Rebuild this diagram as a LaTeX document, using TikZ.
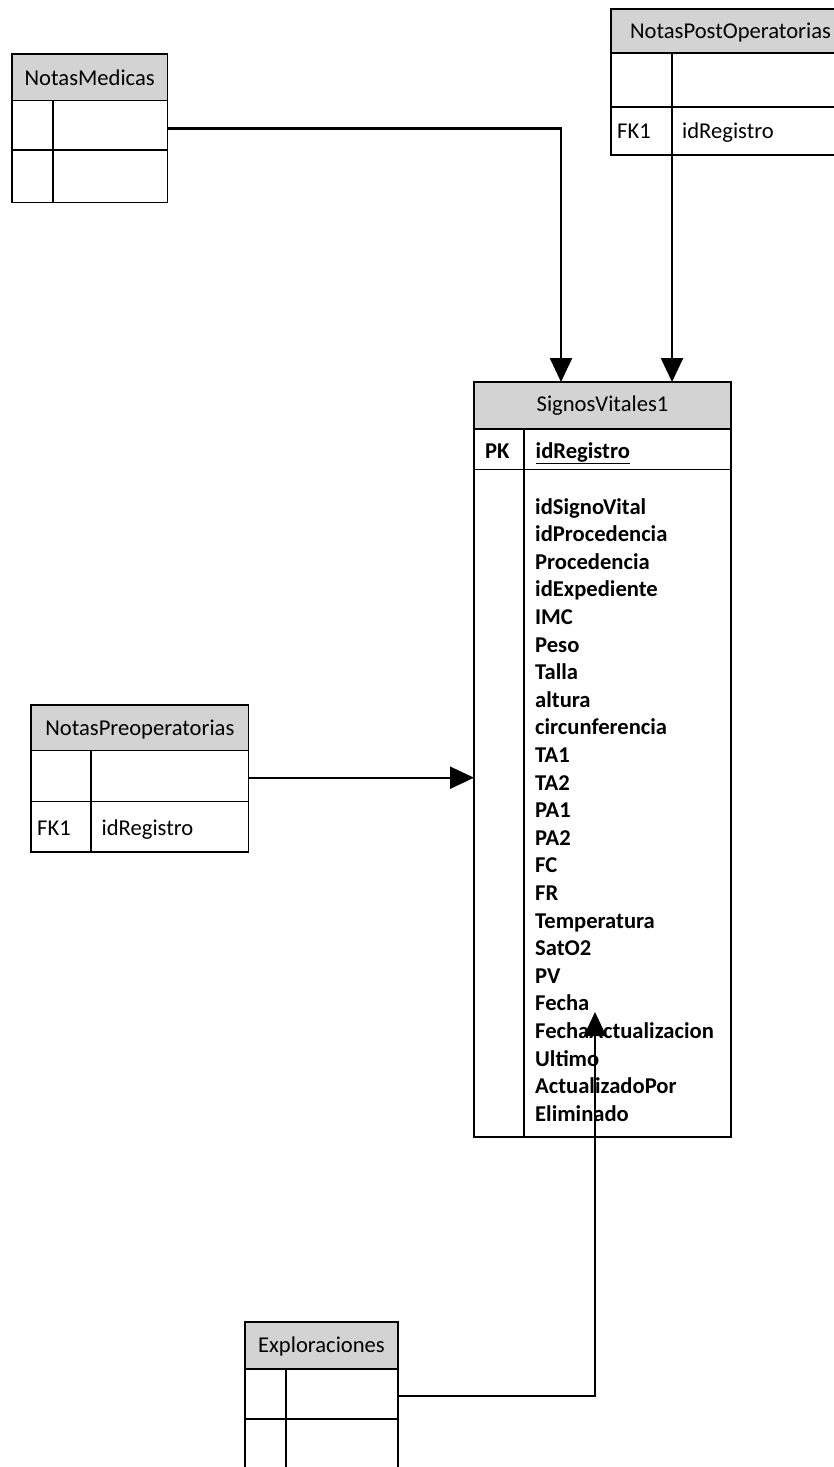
\documentclass[tikz,border=0pt]{standalone}
\usepackage{fontspec}
\setmainfont{Carlito}
\usetikzlibrary{arrows.meta}
\definecolor{hdrgray}{RGB}{211,211,211}
\begin{document}
\begin{tikzpicture}[x=1pt,y=-1pt,
  box/.style={draw=black,line width=1.3pt,inner sep=0pt,outer sep=0pt,anchor=north west},
  hdrbox/.style={box,fill=hdrgray},
  ttl/.style={anchor=base,font=\fontsize{22.6}{27.6}\selectfont,inner sep=0pt},
  cell/.style={anchor=base west,font=\fontsize{22.6}{27.6}\selectfont,inner sep=0pt},
  bcell/.style={anchor=base west,font=\fontsize{22.6}{27.6}\selectfont\bfseries,inner sep=0pt},
  conn/.style={line width=2.4pt,-{Triangle[length=24pt,width=22pt]}}]
\useasboundingbox (0,0) rectangle (834,1467);
\clip (0,0) rectangle (834,1467);

% NotasMedicas
\node[hdrbox,minimum width=155.5pt,minimum height=46.7pt] (nmH) at (12,54) {};
\node[box,minimum width=41pt,minimum height=49.3pt] (nmK1) at (12,100.7) {};
\node[box,minimum width=114.5pt,minimum height=49.3pt] (nmF1) at (53,100.7) {};
\node[box,minimum width=41pt,minimum height=52.7pt] (nmK2) at (12,150) {};
\node[box,minimum width=114.5pt,minimum height=52.7pt] (nmF2) at (53,150) {};
\node[ttl] (nmT) at (89.7,85) {NotasMedicas};

% NotasPostOperatorias
\node[hdrbox,minimum width=239pt,minimum height=44pt] (npH) at (611,9) {};
\node[box,minimum width=61pt,minimum height=54pt] (npK1) at (611,53) {};
\node[box,minimum width=178pt,minimum height=54pt] (npF1) at (672,53) {};
\node[box,minimum width=61pt,minimum height=48pt] (npK2) at (611,107) {};
\node[box,minimum width=178pt,minimum height=48pt] (npF2) at (672,107) {};
\node[ttl] (npT) at (730.5,38) {NotasPostOperatorias};
\node[cell] (npk) at (617,138) {FK1};
\node[cell] (npf) at (682,138) {idRegistro};

% SignosVitales1
\node[hdrbox,minimum width=257pt,minimum height=47pt] (svH) at (474,382) {};
\node[box,minimum width=50pt,minimum height=40.5pt] (svK1) at (474,429) {};
\node[box,minimum width=207pt,minimum height=40.5pt] (svF1) at (524,429) {};
\node[box,minimum width=50pt,minimum height=667.5pt] (svK2) at (474,469.5) {};
\node[box,minimum width=207pt,minimum height=667.5pt] (svF2) at (524,469.5) {};
\node[ttl] (svT) at (602.5,411.5) {SignosVitales1};
\node[bcell] (svpk) at (485,458) {PK};
\node[bcell] (svid) at (535.5,458) {\underline{idRegistro}};
\foreach \name [count=\i] in {idSignoVital,idProcedencia,Procedencia,idExpediente,IMC,Peso,Talla,altura,circunferencia,TA1,TA2,PA1,PA2,FC,FR,Temperatura,SatO2,PV,Fecha,FechaActualizacion,Ultimo,ActualizadoPor,Eliminado}
  \node[bcell] (f\i) at (535,{514+27.6*(\i-1)}) {\name};

% NotasPreoperatorias
\node[hdrbox,minimum width=217.7pt,minimum height=45.7pt] (prH) at (31,705) {};
\node[box,minimum width=60pt,minimum height=51pt] (prK1) at (31,750.7) {};
\node[box,minimum width=157.7pt,minimum height=51pt] (prF1) at (91,750.7) {};
\node[box,minimum width=60pt,minimum height=50.3pt] (prK2) at (31,801.7) {};
\node[box,minimum width=157.7pt,minimum height=50.3pt] (prF2) at (91,801.7) {};
\node[ttl] (prT) at (139.8,735) {NotasPreoperatorias};
\node[cell] (prk) at (37,835) {FK1};
\node[cell] (prf) at (101.5,835) {idRegistro};

% Exploraciones
\node[hdrbox,minimum width=153pt,minimum height=47pt] (exH) at (245,1322) {};
\node[box,minimum width=41pt,minimum height=50pt] (exK1) at (245,1369) {};
\node[box,minimum width=112pt,minimum height=50pt] (exF1) at (286,1369) {};
\node[box,minimum width=41pt,minimum height=55pt] (exK2) at (245,1419) {};
\node[box,minimum width=112pt,minimum height=55pt] (exF2) at (286,1419) {};
\node[ttl] (exT) at (321.5,1352.7) {Exploraciones};

% connectors
\coordinate (svX) at (595,1012);
\draw[conn] ([yshift=-3pt]nmF1.east) -| ([xshift=-41.5pt]svH.north);
\draw[conn] (npK2.south east) -- (npK2.south east |- svH.north);
\draw[conn] ([yshift=-1.5pt]prF1.east) -- ([yshift=-1.5pt]prF1.east -| svK2.west);
\draw[conn] ([yshift=-2pt]exF1.east) -| (svX);
\end{tikzpicture}
\end{document}
